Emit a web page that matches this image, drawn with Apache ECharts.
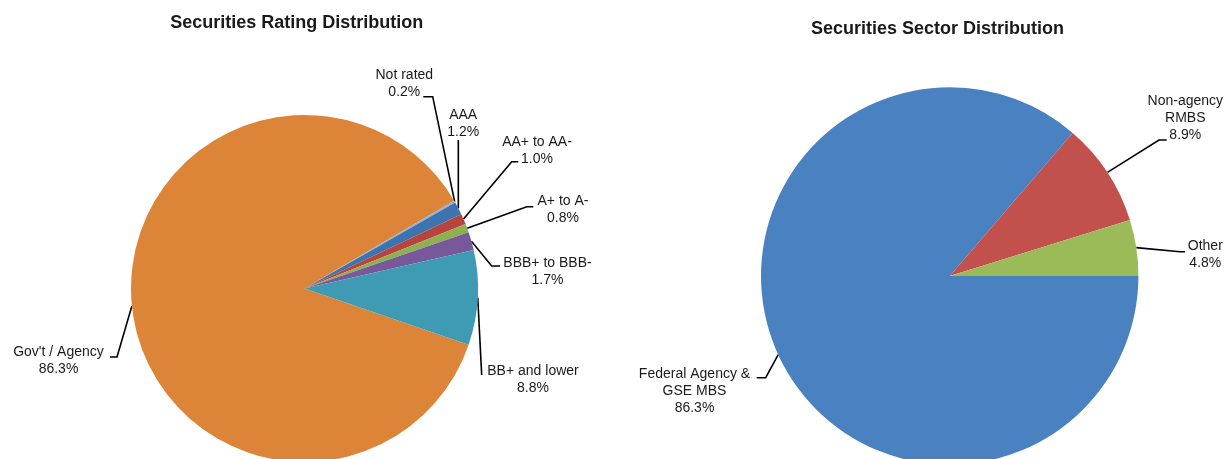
<!DOCTYPE html>
<html>
<head>
<meta charset="utf-8">
<script src="https://cdn.jsdelivr.net/npm/echarts@6/dist/echarts.min.js"></script>
<style>
html,body{margin:0;padding:0;background:#fff;}
#chart{width:1226px;height:459px;}
</style>
</head>
<body>
<div id="chart"></div>
<script>
// ---- data ----
const ratingCategories = ["Gov't / Agency", "Not rated", "AAA", "AA+ to AA-", "A+ to A-", "BBB+ to BBB-", "BB+ and lower"];
const ratingValues = [86.3, 0.2, 1.2, 1.0, 0.8, 1.7, 8.8];
const sectorCategories = ["Federal Agency &\nGSE MBS", "Non-agency\nRMBS", "Other"];
const sectorValues = [86.3, 8.9, 4.8];
const titles = ["Securities Rating Distribution", "Securities Sector Distribution"];

// ---- styles / layout ----
const ratingColors = ['#DC8539', '#93B1D6', '#3D74B0', '#B7443F', '#8EB050', '#77599B', '#3E9BB3'];
const sectorColors = ['#4A81C0', '#C2504D', '#9BBB59'];

// label placement: [labelX, labelY, elbowX, elbowY, endX, endY]
const ratingLabelPos = [
  [58.5, 360.5, 117, 357, 110, 357],
  [404.3, 83.5, 432.7, 96.7, 423.3, 96.7],
  [463.2, 123.3, 458.3, 140, 458.3, 140],
  [537, 150.5, 511.7, 161.7, 518.3, 161.7],
  [563, 210, 526.7, 206.7, 533.3, 206.7],
  [547.5, 272, 491.7, 266, 500, 266],
  [533, 380, 481.7, 375, 481.7, 375]
];
const sectorLabelPos = [
  [694.5, 390.7, 765.7, 377.7, 756.7, 377.7],
  [1185.3, 118.3, 1159, 140, 1166.7, 140],
  [1205.3, 254.2, 1180, 251.7, 1185, 251.7]
];

function makeLayout(posList) {
  return function (params) {
    const p = posList[params.dataIndex];
    const start = params.labelLinePoints ? params.labelLinePoints[0] : [p[2], p[3]];
    return {
      x: p[0], y: p[1], align: 'center', verticalAlign: 'middle',
      labelLinePoints: [start, [p[2], p[3]], [p[4], p[5]]]
    };
  };
}

const labelStyle = {
  show: true,
  position: 'outside',
  color: '#1a1a1a',
  fontFamily: 'Liberation Sans, Arial, sans-serif',
  fontSize: 14,
  lineHeight: 17,
  align: 'center',
  formatter: p => p.name + '\n' + p.value.toFixed(1) + '%'
};
const lineStyle = { show: true, length: 10, length2: 5, smooth: false, lineStyle: { color: '#000', width: 1.6 } };

const chart = echarts.init(document.getElementById('chart'), null, { renderer: 'canvas' });
chart.setOption({
  animation: false,
  backgroundColor: '#fff',
  title: [
    { text: titles[0], left: 296.7, top: 14, textAlign: 'center', padding: 0,
      textStyle: { fontFamily: 'Liberation Sans, Arial, sans-serif', fontSize: 18, fontWeight: 'bold', color: '#1a1a1a' } },
    { text: titles[1], left: 937.5, top: 20, textAlign: 'center', padding: 0,
      textStyle: { fontFamily: 'Liberation Sans, Arial, sans-serif', fontSize: 18, fontWeight: 'bold', color: '#1a1a1a' } }
  ],
  series: [
    {
      type: 'pie',
      center: [304.5, 288.5],
      radius: 173.5,
      startAngle: -18.9,
      clockwise: true,
      avoidLabelOverlap: false,
      minAngle: 0,
      label: labelStyle,
      labelLine: lineStyle,
      labelLayout: makeLayout(ratingLabelPos),
      itemStyle: { borderWidth: 0 },
      emphasis: { disabled: true },
      data: ratingCategories.map((n, i) => ({ name: n, value: ratingValues[i], itemStyle: { color: ratingColors[i] } }))
    },
    {
      type: 'pie',
      center: [949.7, 276],
      radius: 188.7,
      startAngle: 0,
      clockwise: true,
      avoidLabelOverlap: false,
      label: labelStyle,
      labelLine: lineStyle,
      labelLayout: makeLayout(sectorLabelPos),
      itemStyle: { borderWidth: 0 },
      emphasis: { disabled: true },
      data: sectorCategories.map((n, i) => ({ name: n, value: sectorValues[i], itemStyle: { color: sectorColors[i] } }))
    }
  ]
});
</script>
</body>
</html>
